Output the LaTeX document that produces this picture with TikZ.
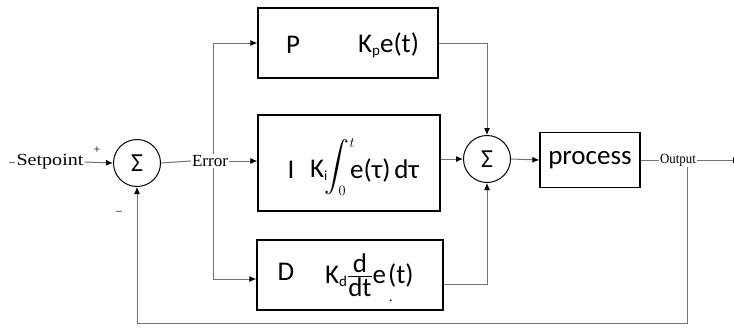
\documentclass[tikz,border=0pt]{standalone}
\usepackage{amsmath}
\usepackage{fontspec}
\setmainfont{Liberation Serif}
\newfontfamily\boxfont{Carlito}
\usetikzlibrary{arrows.meta}
\begin{document}
\begin{tikzpicture}[x=1pt,y=-1pt,
  conn/.style={draw=black!55, line width=1pt},
  arr/.style={conn,-{Latex[length=7pt,width=6pt,color=black]}},
  blk/.style={draw=black, line width=1.3pt, inner sep=0pt},
  sumc/.style={circle, draw=black, line width=1pt, minimum size=47pt, inner sep=0pt, font=\boxfont\fontsize{26}{26}\selectfont},
  lbl/.style={font=\fontsize{17}{17}\selectfont, inner sep=1pt, fill=white},
  btxt/.style={font=\boxfont\fontsize{27}{27}\selectfont, inner sep=0pt},
  sign/.style={font=\fontsize{12}{12}\selectfont, inner sep=0pt}
]
\useasboundingbox[fill=white] (0,0) rectangle (734,327);

% summing junctions
\node[sumc] (s1) at (137,163) {Σ};
\node[sumc] (s2) at (487,159) {Σ};

% PID blocks
\node[blk, minimum width=180pt, minimum height=70pt] (P) at (348,43) {};
\node[blk, minimum width=182pt, minimum height=96pt] (I) at (349,163) {};
\node[blk, minimum width=186pt, minimum height=70pt] (D) at (350,275) {};
\node[blk, minimum width=100pt, minimum height=55pt] (proc) at (590,160) {};

% block texts
\node[btxt] (Pl) at (293,45) {P};
\node[btxt, anchor=west] (Pf) at (358,45) {K\raisebox{-3pt}{\fontsize{15}{15}\selectfont p}e(t)};
\node[btxt] (Il) at (291,170) {I};
\node[btxt, anchor=west] (Ik) at (310,170) {K\raisebox{-3pt}{\fontsize{14}{14}\selectfont i}};
\node[inner sep=0pt] (Iint) at (340,167) {\fontsize{30}{30}\selectfont$\displaystyle\int_{\scriptscriptstyle 0}^{\scriptscriptstyle t}$};
\node[btxt, anchor=west] (If) at (350,170) {e(τ)\hspace{4pt}dτ};
\node[btxt] (Dl) at (286,272) {D};
\node[btxt, anchor=west] (Df) at (325,275) {K\raisebox{-3pt}{\fontsize{15}{15}\selectfont d}\raisebox{1pt}{\fontsize{27}{27}\selectfont$\genfrac{}{}{0.9pt}{}{\hbox{\boxfont d}}{\hbox{\boxfont dt}}$}e\hspace{2pt}(t)};
\node[font=\boxfont\fontsize{14}{14}\selectfont, inner sep=0pt] (Ddot) at (391,301) {.};
\node[btxt] (procl) at (590,160) {process};

% labels
\coordinate (start) at (9,162);
\node[lbl] (sp) at (50,162) {\scalebox{1.18}[1]{Setpoint}};
\node[sign] (plus) at (97,150) {+};
\node[sign] (minus) at (119,213) {--};
\node[lbl] (err) at (210,161) {Error};
\node[lbl, font=\fontsize{14}{14}\selectfont] (out) at (678,160) {\scalebox{0.92}[1]{Output}};
\coordinate (bp) at (213,161);
\coordinate (fbR) at (687,323);
\coordinate (fbL) at (137,323);
\coordinate (endpt) at (740,160);

% connectors
\draw[conn] (start) -- (sp.west);
\draw[arr] (sp.east) -- (s1.west);
\draw[conn] (s1.east) -- (err.west);
\draw[arr] (err.east) -- (err.east -| I.west);
\draw[arr] (err.north -| bp) |- (P.west);
\draw[arr] (err.south -| bp) |- ([yshift=-4pt]D.west);
\draw[arr] (P.east) -| (s2.north);
\draw[arr] (s2.west -| I.east) -- (s2.west);
\draw[arr] ([yshift=-9pt]D.east) -| (s2.south);
\draw[arr] (s2.east) -- (proc.west);
\draw[conn] (proc.east) -- (out.west);
\draw[arr] (out.east) -- (endpt);
\draw[arr] (out.south -| fbR) -- (fbR) -- (fbL) -- (s1.south);
\end{tikzpicture}
\end{document}
